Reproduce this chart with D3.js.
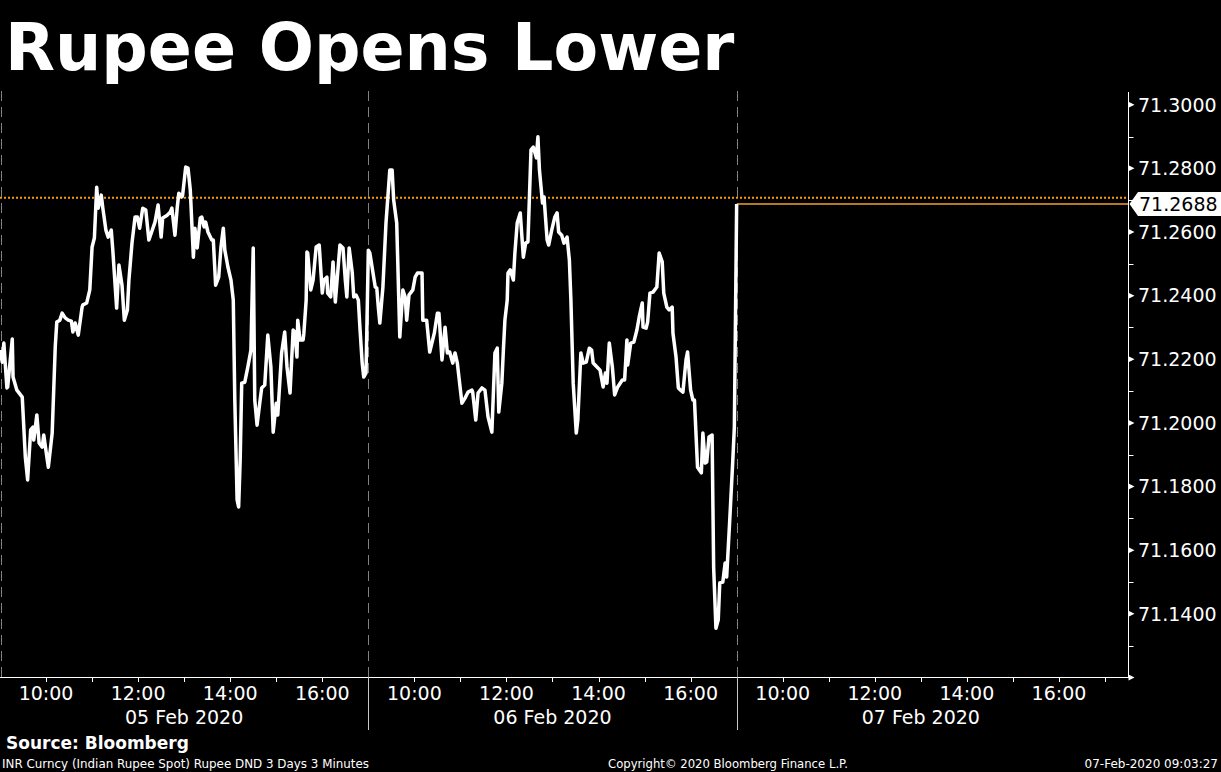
<!DOCTYPE html>
<html><head><meta charset="utf-8">
<script src="https://cdn.jsdelivr.net/npm/d3@7"></script>
<style>
html,body{margin:0;padding:0;background:#000;}
svg{display:block;}
text{font-family:"DejaVu Sans",Verdana,sans-serif;fill:#fff;}
</style></head>
<body>
<svg id="chart" width="1221" height="772"></svg>
<script>
// ---------- DATA (INR spot, 3-minute bars; minutes after 09:00 open) ----------
const dates = ["05 Feb 2020", "06 Feb 2020", "07 Feb 2020"];
const hourLabels = ["10:00", "12:00", "14:00", "16:00"];
const yTickValues = [71.14, 71.16, 71.18, 71.20, 71.22, 71.24, 71.26, 71.28, 71.30];
const lastPrice = 71.2688;
const refLevel = 71.2708;

const day1Minutes = [0,3,5,9,10,16,17,22,29,33,36,40,43,44,48,51,55,57,63,68,72,74,78,81,85,89,93,95,98,102,107,108,113,117,120,123,126,128,132,134,138,141,145,147,152,155,159,162,166,168,172,176,179,182,186,190,194,202,206,210,212,218,222,224,228,231,233,237,238,242,245,248,252,254,257,261,263,266,268,271,276,278,281,285,288,291,293,297,301,304,306,309,311,313,315,319,323,327,330,332,335,339,341,345,349,353,356,360,362,367,371,374,378,382,384,387,388,391,395,396,399,400,401,405,408,412,416,420,422,426,427,431,434,437,439,443,447,450,452,455,459,461,464,467,469,472,474,477];
const day1Values = [71.2229,71.2191,71.2251,71.2110,71.2113,71.2264,71.2144,71.2103,71.2081,71.1893,71.1821,71.1978,71.1987,71.1946,71.2025,71.1937,71.1924,71.1962,71.1861,71.1968,71.2239,71.2317,71.2323,71.2345,71.2330,71.2323,71.2320,71.2286,71.2314,71.2276,71.2364,71.2371,71.2377,71.2418,71.2553,71.2581,71.2741,71.2675,71.2716,71.2675,71.2606,71.2584,71.2606,71.2543,71.2361,71.2496,71.2433,71.2323,71.2355,71.2449,71.2565,71.2647,71.2647,71.2612,71.2675,71.2669,71.2575,71.2631,71.2685,71.2584,71.2644,71.2653,71.2663,71.2675,71.2590,71.2678,71.2722,71.2710,71.2716,71.2804,71.2801,71.2732,71.2521,71.2612,71.2550,71.2644,71.2647,71.2616,71.2631,71.2600,71.2575,71.2575,71.2433,71.2458,71.2553,71.2612,71.2543,71.2490,71.2449,71.2386,71.2072,71.1758,71.1736,71.1883,71.2125,71.2128,71.2176,71.2229,71.2550,71.2072,71.1993,71.2072,71.2110,71.2119,71.2276,71.2176,71.1971,71.2062,71.2025,71.2220,71.2286,71.2176,71.2094,71.2292,71.2286,71.2207,71.2323,71.2261,71.2261,71.2282,71.2386,71.2537,71.2534,71.2418,71.2449,71.2553,71.2559,71.2408,71.2449,71.2458,71.2408,71.2396,71.2506,71.2380,71.2440,71.2559,71.2550,71.2449,71.2396,71.2550,71.2474,71.2396,71.2402,71.2386,71.2301,71.2188,71.2144,71.2157];

const day2Minutes = [0,2,9,11,13,15,19,23,28,31,33,37,41,45,48,50,53,58,61,64,70,71,76,80,86,90,92,96,100,103,106,110,113,116,122,126,130,135,136,140,143,148,152,156,161,165,168,170,174,176,178,181,182,185,189,191,194,198,202,205,208,212,215,219,221,223,227,229,233,235,239,243,246,248,252,255,259,262,264,267,271,273,277,280,284,288,291,293,298,302,306,309,311,314,318,321,325,331,334,337,338,342,346,350,353,357,358,362,364,367,371,376,379,383,385,389,392,396,397,401,404,407,410,414,416,420,423,425,429,434,436,439,441,444,448,450,453,456,458,462,465,467,471,475,477];
const day2Values = [71.2543,71.2534,71.2427,71.2424,71.2364,71.2314,71.2427,71.2628,71.2795,71.2795,71.2701,71.2628,71.2270,71.2418,71.2396,71.2323,71.2402,71.2418,71.2458,71.2471,71.2471,71.2323,71.2323,71.2223,71.2282,71.2345,71.2345,71.2198,71.2301,71.2220,71.2223,71.2188,71.2220,71.2188,71.2062,71.2078,71.2097,71.2103,71.2097,71.2009,71.2094,71.2110,71.2103,71.2019,71.1971,71.2220,71.2235,71.2034,71.2125,71.2229,71.2323,71.2386,71.2471,71.2481,71.2449,71.2534,71.2628,71.2660,71.2521,71.2565,71.2569,71.2858,71.2867,71.2833,71.2899,71.2795,71.2691,71.2710,71.2575,71.2559,71.2606,71.2647,71.2660,71.2600,71.2590,71.2565,71.2584,71.2512,71.2386,71.2125,71.1968,71.2009,71.2220,71.2188,71.2191,71.2235,71.2229,71.2188,71.2176,71.2166,71.2113,71.2157,71.2125,71.2251,71.2176,71.2088,71.2113,71.2135,71.2135,71.2261,71.2182,71.2251,71.2254,71.2292,71.2333,71.2377,71.2301,71.2298,71.2317,71.2408,71.2411,71.2427,71.2534,71.2506,71.2408,71.2364,71.2355,71.2364,71.2282,71.2207,71.2110,71.2103,71.2097,71.2198,71.2223,71.2103,71.2072,71.2072,71.1861,71.1843,71.1968,71.1874,71.1877,71.1956,71.1962,71.1547,71.1355,71.1381,71.1497,71.1500,71.1560,71.1516,71.1695,71.1883,71.1987];

const day3Minutes = [0];
const day3Values = [71.2688];

// ---------- LAYOUT ----------
const W = 1221, H = 772;
const plotLeft = 0, plotRight = 1128, plotTop = 92, plotBottom = 677.5;
const sessionLen = 480;           // 09:00-17:00
const totalSpan = 1470;           // 3 sessions + right padding

const svg = d3.select("#chart");
svg.append("rect").attr("width", W).attr("height", H).attr("fill", "#000");

const x = d3.scaleLinear().domain([0, totalSpan]).range([plotLeft, plotRight]);
const y = d3.scaleLinear().domain([71.12, 71.304]).range([plotBottom, plotTop]);

// build series
const dayMinutes = [day1Minutes, day2Minutes, day3Minutes];
const dayValues = [day1Values, day2Values, day3Values];
const series = [];
dayMinutes.forEach((mins, d) => mins.forEach((m, i) => series.push({t: d * sessionLen + m, v: dayValues[d][i]})));

// Title
svg.append("text").attr("x", 5).attr("y", 70)
  .style("font-size", "65px").style("font-weight", "bold")
  .text("Rupee Opens Lower");

// dashed day gridlines
[0, 1, 2].forEach(d => {
  const gx = Math.max(1, Math.round(x(d * sessionLen))) + 0.5;
  svg.append("line").attr("x1", gx).attr("x2", gx)
    .attr("y1", plotTop - 1).attr("y2", plotBottom)
    .attr("stroke", "#808080").attr("stroke-width", 1)
    .attr("stroke-dasharray", "10,6");
});

// orange dotted reference line
svg.append("line").attr("x1", plotLeft).attr("x2", plotRight)
  .attr("y1", y(refLevel)).attr("y2", y(refLevel))
  .attr("stroke", "#ff9900").attr("stroke-width", 2).attr("stroke-dasharray", "2,2");

// orange last price line
svg.append("line").attr("x1", x(2 * sessionLen)).attr("x2", plotRight)
  .attr("y1", y(lastPrice)).attr("y2", y(lastPrice))
  .attr("stroke", "#f0a030").attr("stroke-width", 1.5);

// price line
const line = d3.line().x(d => x(d.t)).y(d => y(d.v));
svg.append("path").datum(series).attr("d", line)
  .attr("fill", "none").attr("stroke", "#fff").attr("stroke-width", 3.5)
  .attr("stroke-linejoin", "round").attr("stroke-linecap", "butt");

// Right axis
const ax = plotRight + 0.5;
svg.append("line").attr("x1", ax).attr("x2", ax).attr("y1", plotTop).attr("y2", plotBottom)
  .attr("stroke", "#fff").attr("stroke-width", 1);
const minorVals = d3.range(71.13, 71.295, 0.02);
minorVals.forEach(v => {
  const yy = Math.round(y(v)) + 0.5;
  svg.append("line").attr("x1", ax).attr("x2", ax + 5).attr("y1", yy).attr("y2", yy)
    .attr("stroke", "#fff").attr("stroke-width", 1);
});
[71.12].concat(yTickValues).forEach(v => {
  const yy = y(v);
  svg.append("path").attr("d", `M${ax},${yy - 3}L${ax + 6},${yy}L${ax},${yy + 3}Z`).attr("fill", "#fff");
});
yTickValues.forEach(v => {
  svg.append("text").attr("x", 1138).attr("y", y(v)).attr("dy", "0.36em")
    .style("font-size", "19px").text(d3.format(".4f")(v));
});

// last price tag
const ty = y(lastPrice);
svg.append("path")
  .attr("d", `M${ax + 1},${ty}L${1138},${ty - 12}L${W},${ty - 12}L${W},${ty + 12}L${1138},${ty + 12}Z`)
  .attr("fill", "#fff");
svg.append("text").attr("x", 1139).attr("y", ty).attr("dy", "0.36em")
  .style("font-size", "19px").style("fill", "#000").text(d3.format(".4f")(lastPrice));

// Bottom axis
svg.append("line").attr("x1", plotLeft).attr("x2", plotRight + 1).attr("y1", 677.5).attr("y2", 677.5)
  .attr("stroke", "#fff").attr("stroke-width", 1);
[0, 1, 2].forEach(d => {
  d3.range(60, 481, 60).forEach(m => {
    const tx = Math.round(x(d * sessionLen + m)) + 0.5;
    svg.append("line").attr("x1", tx).attr("x2", tx).attr("y1", 678).attr("y2", 682)
      .attr("stroke", "#fff").attr("stroke-width", 1);
  });
  hourLabels.forEach((lab, i) => {
    const m = (i * 2 + 1) * 60;
    svg.append("text").attr("x", x(d * sessionLen + m)).attr("y", 700)
      .attr("text-anchor", "middle").style("font-size", "19px").text(lab);
  });
  svg.append("text").attr("x", x(d * sessionLen + sessionLen / 2)).attr("y", 724)
    .attr("text-anchor", "middle").style("font-size", "19px").text(dates[d]);
  if (d > 0) {
    const sx = Math.round(x(d * sessionLen)) + 0.5;
    svg.append("line").attr("x1", sx).attr("x2", sx).attr("y1", 677).attr("y2", 730)
      .attr("stroke", "#c8c8c8").attr("stroke-width", 1);
  }
});

// Footer
svg.append("text").attr("x", 6).attr("y", 749)
  .style("font-size", "17px").style("font-weight", "bold").text("Source: Bloomberg");
svg.append("text").attr("x", 2).attr("y", 768).style("font-size", "12px")
  .attr("textLength", 367).attr("lengthAdjust", "spacingAndGlyphs")
  .text("INR Curncy (Indian Rupee Spot) Rupee DND 3 Days 3 Minutes");
svg.append("text").attr("x", 608).attr("y", 768).style("font-size", "12px")
  .attr("textLength", 240).attr("lengthAdjust", "spacingAndGlyphs")
  .text("Copyright\u00A9 2020 Bloomberg Finance L.P.");
svg.append("text").attr("x", 1218).attr("y", 768).attr("text-anchor", "end").style("font-size", "12px")
  .text("07-Feb-2020 09:03:27");
</script>
</body></html>
